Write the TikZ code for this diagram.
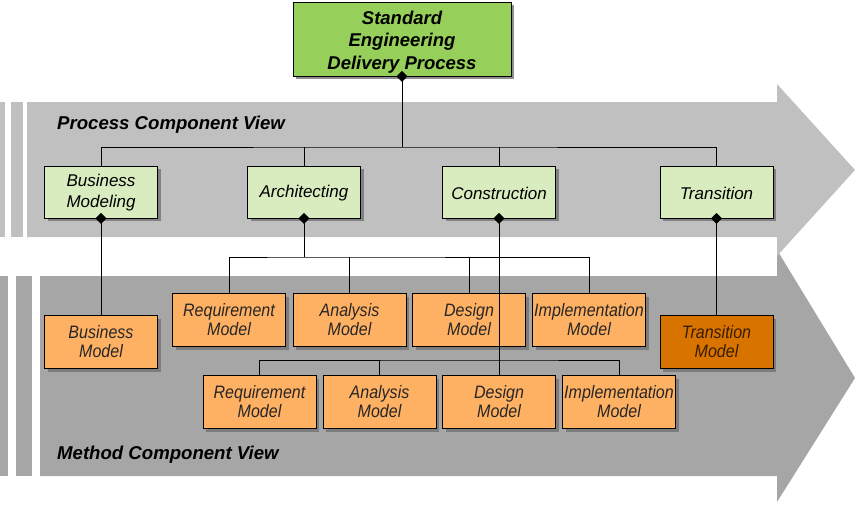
\documentclass[tikz,border=0pt]{standalone}
\usepackage{fontspec}
\setmainfont{Liberation Sans}
\newfontfamily\modelfont[FakeStretch=0.89]{Liberation Sans}
\usetikzlibrary{shapes.geometric,shadows}
\definecolor{upgrey}{HTML}{C0C0C0}
\definecolor{lowgrey}{HTML}{A6A6A6}
\definecolor{topgreen}{HTML}{96D05A}
\definecolor{lightgreen}{HTML}{D8ECC0}
\definecolor{orng}{HTML}{FFB163}
\definecolor{darkorng}{HTML}{D97300}
\tikzset{
  base/.style={draw=black, line width=0.8pt, align=center, inner sep=0pt,
    drop shadow={shadow xshift=3pt, shadow yshift=-3pt, fill=black!55, opacity=0.8}},
  topbox/.style={base, fill=topgreen, minimum width=218pt, minimum height=74pt},
  toptext/.style={align=center, inner sep=0pt, font=\fontsize{18.5}{22.5}\selectfont\bfseries\itshape},
  lvl/.style={base, fill=lightgreen, minimum width=113pt, minimum height=52pt,
    font=\fontsize{17}{20.5}\selectfont\itshape},
  model/.style={base, fill=orng, minimum width=113pt, minimum height=53pt,
    font=\modelfont\fontsize{18}{19}\selectfont\itshape, text=black!85},
  dmodel/.style={model, fill=darkorng, text=black!75!darkorng},
  dia/.style={diamond, fill=black, inner sep=0pt, minimum size=11pt},
  conn/.style={draw=black, line width=0.8pt},
  viewlabel/.style={anchor=base west, inner sep=0pt, font=\fontsize{18.6}{18.6}\selectfont\bfseries\itshape}
}
\begin{document}
\begin{tikzpicture}[x=1pt,y=-1pt]
\useasboundingbox (0,0) rectangle (856,504);
% lower arrow
\fill[lowgrey] (40,276) -- (777,276) -- (777,250) -- (855,378) -- (777,502) -- (777,476) -- (40,476) -- cycle;
\fill[lowgrey] (0,276) rectangle (8,476);
\fill[lowgrey] (16,276) rectangle (32,476);
% upper arrow
\fill[upgrey] (27,102) -- (777,102) -- (777,84) -- (855,170) -- (777,256) -- (777,237) -- (27,237) -- cycle;
\fill[upgrey] (0,102) rectangle (5,237);
\fill[upgrey] (11,102) rectangle (23,237);

\node[viewlabel] (pcv) at (57,129) {Process Component View};
\node[viewlabel] (mcv) at (57,459) {Method Component View};

% boxes
\node[topbox] (sedp) at (402,39) {};
\node[toptext] (sedpt) at (402,42) {Standard\\Engineering\\Delivery Process};
\node[lvl] (bm) at (101,192) {\rule{0pt}{14pt}Business\\Modeling};
\node[lvl] (ar) at (304,192) {\rule{0pt}{15pt}Architecting};
\node[lvl] (co) at (499,192) {\rule{0pt}{15pt}Construction};
\node[lvl] (tr) at (716.5,192) {\rule{0pt}{15pt}Transition};

\node[model] (bmod) at (101,342) {Business\\Model};
\node[dmodel] (tmod) at (716.5,342) {Transition\\Model};

\node[model] (r1) at (229,320) {Requirement\\Model};
\node[model] (a1) at (349.5,320) {Analysis\\Model};
\node[model] (d1) at (469,320) {Design\\Model};
\node[model] (i1) at (589,320) {Implementation\\Model};

\node[model] (r2) at (259.5,402) {Requirement\\Model};
\node[model] (a2) at (379.5,402) {Analysis\\Model};
\node[model] (d2) at (499,402) {Design\\Model};
\node[model] (i2) at (619,402) {Implementation\\Model};

% bus coordinates
\coordinate (bus0) at (402,147);
\coordinate (bus1) at (304,257);
\coordinate (bus2) at (499,360);

% connectors
\draw[conn] (sedp.south) -- (bus0);
\draw[conn] (bm.north) |- (bus0) -| (tr.north);
\draw[conn] (ar.north) -- (ar.north |- bus0);
\draw[conn] (co.north) -- (co.north |- bus0);

\draw[conn] (bm.south) -- (bmod.north);
\draw[conn] (tr.south) -- (tmod.north);

\draw[conn] (ar.south) -- (bus1);
\draw[conn] (r1.north) |- (bus1) -| (i1.north);
\draw[conn] (a1.north) -- (a1.north |- bus1);
\draw[conn] (d1.north) -- (d1.north |- bus1);

\draw[conn] (co.south) -- (d2.north);
\draw[conn] (r2.north) |- (bus2) -| (i2.north);
\draw[conn] (a2.north) -- (a2.north |- bus2);

% diamonds
\node[dia] (dsedp) at (sedp.south) {};
\node[dia] (dbm) at (bm.south) {};
\node[dia] (dar) at (ar.south) {};
\node[dia] (dco) at (co.south) {};
\node[dia] (dtr) at (tr.south) {};
\end{tikzpicture}
\end{document}
